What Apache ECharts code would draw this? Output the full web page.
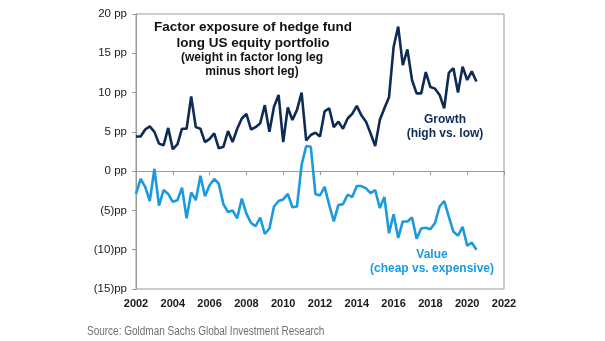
<!DOCTYPE html>
<html>
<head>
<meta charset="utf-8">
<script src="https://cdn.jsdelivr.net/npm/echarts@6/dist/echarts.min.js"></script>
<style>
  html, body { margin: 0; padding: 0; background: #ffffff; }
  #chart { width: 605px; height: 341px; }
</style>
</head>
<body>
<div id="chart"></div>
<script>
// Quarterly observations, first quarter of 2002 onward (percentage points)
const startYear = 2002;
const stepYears = 0.25;

const growth = [
  4.4, 4.4, 5.3, 5.7, 5.0, 3.5, 3.3, 5.5, 2.8, 3.4,
  5.4, 5.4, 9.5, 5.6, 5.4, 3.7, 4.1, 4.8, 2.9, 3.1,
  5.1, 3.7, 5.4, 6.7, 7.3, 5.3, 5.6, 6.1, 8.4, 5.0,
  8.2, 9.7, 3.7, 8.1, 6.5, 7.8, 10.0, 3.9, 4.6, 4.9,
  4.4, 7.6, 8.0, 5.6, 6.3, 5.4, 6.7, 7.3, 8.3, 7.1,
  6.3, 4.8, 3.2, 6.5, 8.0, 9.4, 15.8, 18.4, 13.5, 15.5,
  11.6, 9.9, 9.9, 12.6, 10.7, 10.5, 9.7, 8.0, 12.5, 13.1,
  10.0, 13.3, 11.6, 12.7, 11.4
];

const value = [
  -2.9, -1.0, -2.0, -3.8, 0.3, -4.4, -2.4, -2.9, -3.9, -3.7,
  -2.1, -6.0, -2.7, -3.7, -0.6, -3.2, -1.8, -1.0, -1.6, -4.2,
  -5.2, -5.0, -6.0, -3.5, -5.4, -6.6, -7.0, -5.9, -8.0, -7.3,
  -4.5, -3.8, -3.6, -2.9, -4.6, -4.5, 0.8, 3.2, 3.1, -2.9,
  -3.1, -2.0, -4.3, -6.4, -4.3, -4.2, -3.0, -3.3, -1.9, -1.9,
  -2.2, -2.8, -2.4, -4.7, -3.3, -7.9, -5.5, -8.5, -6.4, -6.4,
  -5.9, -8.6, -7.3, -7.2, -7.4, -6.6, -4.5, -3.8, -5.8, -7.7,
  -8.2, -7.1, -9.5, -9.1, -10.0
];

const yTicks = [-15, -10, -5, 0, 5, 10, 15, 20];
const yTickLabels = ['(15)pp', '(10)pp', '(5)pp', '0 pp', '5 pp', '10 pp', '15 pp', '20 pp'];

const titleLines = ['Factor exposure of hedge fund', 'long US equity portfolio'];
const subtitleLines = ['(weight in factor long leg', 'minus short leg)'];
const growthLabel = ['Growth', '(high vs. low)'];
const valueLabel = ['Value', '(cheap vs. expensive)'];
const sourceText = 'Source: Goldman Sachs Global Investment Research';

const growthColor = '#0d2b55';
const valueColor = '#1b9ade';
const frameColor = '#9a9a9a';
const baseFont = 'Arial, "Liberation Sans", sans-serif';

const toPoints = arr => arr.map((v, i) => [startYear + i * stepYears, v]);

const chart = echarts.init(document.getElementById('chart'), null, { renderer: 'canvas' });

function textItem(text, x, y, size, color, weight, family) {
  return {
    type: 'text',
    x: x, y: y,
    style: {
      text: text,
      fill: color,
      font: (weight || 'bold') + ' ' + size + 'px ' + (family || baseFont),
      textAlign: 'center',
      textVerticalAlign: 'middle'
    }
  };
}

chart.setOption({
  animation: false,
  backgroundColor: '#ffffff',
  grid: {
    left: 136, right: 101, top: 14, bottom: 52,
    show: true, borderColor: frameColor, borderWidth: 1,
    backgroundColor: 'transparent'
  },
  xAxis: [
    {
      type: 'value', min: 2002, max: 2022, interval: 2,
      axisLine: { show: true, onZero: true, lineStyle: { color: frameColor, width: 1 } },
      axisTick: { show: true, length: 4, lineStyle: { color: frameColor } },
      axisLabel: { show: false },
      splitLine: { show: false }
    },
    {
      type: 'value', min: 2002, max: 2022, interval: 2, position: 'bottom',
      axisLine: { show: false, onZero: false },
      axisTick: { show: false },
      axisLabel: {
        show: true, margin: 9, color: '#1a1a1a',
        fontFamily: baseFont, fontSize: 11, fontWeight: 'bold',
        formatter: v => String(v)
      },
      splitLine: { show: false }
    }
  ],
  yAxis: {
    type: 'value', min: -15, max: 20, interval: 5,
    axisLine: { show: true, lineStyle: { color: frameColor, width: 1 } },
    axisTick: { show: true, length: 4, lineStyle: { color: frameColor } },
    axisLabel: {
      margin: 9, color: '#1a1a1a', fontFamily: baseFont, fontSize: 11.5,
      formatter: v => yTickLabels[yTicks.indexOf(v)]
    },
    splitLine: { show: false }
  },
  series: [
    {
      name: growthLabel[0], type: 'line', xAxisIndex: 0,
      data: toPoints(growth), showSymbol: false, symbol: 'none',
      lineStyle: { color: growthColor, width: 2.6 }, z: 3
    },
    {
      name: valueLabel[0], type: 'line', xAxisIndex: 0,
      data: toPoints(value), showSymbol: false, symbol: 'none',
      lineStyle: { color: valueColor, width: 2.6 }, z: 2
    }
  ],
  graphic: [
    textItem(titleLines[0], 253, 27, 13.5, '#111111'),
    textItem(titleLines[1], 253, 43, 13.5, '#111111'),
    textItem(subtitleLines[0], 252, 58, 12, '#111111'),
    textItem(subtitleLines[1], 252, 72, 12, '#111111'),
    textItem(growthLabel[0], 445, 120, 12, growthColor),
    textItem(growthLabel[1], 445, 134, 12, growthColor),
    textItem(valueLabel[0], 432, 255, 12, valueColor),
    textItem(valueLabel[1], 432, 269, 12, valueColor),
    {
      // condensed source line
      type: 'text', x: 87, y: 332, scaleX: 0.8, originX: 0, originY: 0,
      style: {
        text: sourceText, fill: '#707070',
        font: 'normal 12.5px Arial, "Liberation Sans", sans-serif',
        textAlign: 'left', textVerticalAlign: 'middle'
      }
    }
  ]
});
</script>
</body>
</html>
